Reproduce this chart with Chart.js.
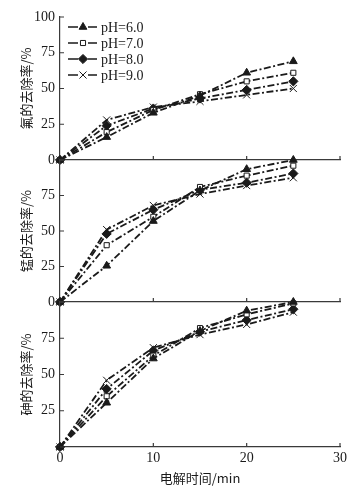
<!DOCTYPE html>
<html>
<head>
<meta charset="utf-8">
<script src="https://cdn.jsdelivr.net/npm/chart.js@4.4.1/dist/chart.umd.min.js"></script>
<style>
html, body { margin: 0; padding: 0; background: #fff; }
#wrap { position: relative; width: 360px; height: 490px; }
#wrap canvas { position: absolute; left: 0; top: 0; }
</style>
</head>
<body>
<div id="wrap">
  <canvas id="c1" width="360" height="490"></canvas>
  <canvas id="c2" width="360" height="490"></canvas>
  <canvas id="c3" width="360" height="490"></canvas>
</div>
<script>
// --- datos ---
const times = [0, 5, 10, 15, 20, 25];
const phLabels = ['pH=6.0', 'pH=7.0', 'pH=8.0', 'pH=9.0'];
const xTicks = [0, 10, 20, 30];

// 氟 (fluor): pH6, pH7, pH8, pH9
const fluoride = [
    [0, 16, 33, 45, 61, 69],
    [0, 19.5, 35, 46, 55, 61],
    [0, 24, 36, 43, 49, 55],
    [0, 28, 37, 41, 45.5, 50]
];
// 锰 (manganeso)
const manganese = [
    [0, 25.5, 57, 78.5, 93.5, 100],
    [0, 40, 60, 81, 89, 96],
    [0, 48, 65, 79, 84, 90.5],
    [0, 51, 68, 76, 82, 87.5]
];
// 砷 (arsenico)
const arsenic = [
    [0, 30.5, 61, 80, 94, 100],
    [0, 35, 63, 82, 91.5, 99],
    [0, 40, 66.5, 79.5, 87.5, 95],
    [0, 46, 68.5, 77.5, 84.5, 93]
];

const INK = '#1a1a1a';
const AXIS = '#3a3a3a';
const SERIF = "'Liberation Serif', 'DejaVu Serif', serif";
const CJK = "'Noto Sans CJK SC', 'Noto Sans', sans-serif";

// estilo de marcadores por pH
const markers = [
    { pointStyle: 'triangle', radius: 4.5, fill: INK },
    { pointStyle: 'rect', radius: 3.6, fill: '#fff' },
    { pointStyle: 'rectRot', radius: 4.6, fill: INK },
    { pointStyle: 'crossRot', radius: 5, fill: INK }
];

const makeDatasets = (rows) => rows.map((vals, i) => ({
    label: phLabels[i],
    data: times.map((t, k) => ({ x: t, y: vals[k] })),
    borderColor: INK,
    borderWidth: 1.8,
    borderDash: [7, 2.5, 2, 2.5],
    pointStyle: markers[i].pointStyle,
    pointRadius: markers[i].radius,
    pointBackgroundColor: markers[i].fill,
    pointBorderColor: INK,
    pointBorderWidth: 1,
    tension: 0,
    clip: false
}));

// marcas de escala hacia dentro
const innerTicks = {
    id: 'innerTicks',
    afterDraw(chart) {
        const { ctx, chartArea, scales } = chart;
        ctx.save();
        ctx.strokeStyle = AXIS;
        ctx.lineWidth = 1.2;
        ctx.beginPath();
        [10, 20, 30].forEach(v => {
            const x = scales.x.getPixelForValue(v);
            ctx.moveTo(x, chartArea.bottom);
            ctx.lineTo(x, chartArea.bottom - 4);
        });
        scales.y.ticks.forEach(t => {
            const y = scales.y.getPixelForValue(t.value);
            ctx.moveTo(chartArea.left, y);
            ctx.lineTo(chartArea.left + 4, y);
        });
        ctx.stroke();
        ctx.restore();
    }
};

// leyenda dibujada a mano (linea - marcador - linea)
const legendBox = {
    id: 'legendBox',
    afterDraw(chart) {
        if (chart.canvas.id !== 'c1') return;
        const ctx = chart.ctx;
        ctx.save();
        phLabels.forEach((lab, i) => {
            const y = 27 + i * 16;
            ctx.strokeStyle = INK;
            ctx.lineWidth = 1.6;
            ctx.beginPath();
            ctx.moveTo(68, y); ctx.lineTo(78, y);
            ctx.moveTo(88, y); ctx.lineTo(97, y);
            ctx.stroke();
            ctx.fillStyle = markers[i].fill;
            ctx.lineWidth = 1;
            Chart.helpers.drawPoint(ctx, { pointStyle: markers[i].pointStyle, radius: markers[i].radius, rotation: 0, borderWidth: 1 }, 83, y);
            ctx.fillStyle = INK;
            ctx.font = '14px ' + SERIF;
            ctx.textBaseline = 'middle';
            ctx.fillText(lab, 101, y + 1);
        });
        ctx.restore();
    }
};

const panelOptions = (top, bottom, yTitle, showX, hideTicks) => ({
    responsive: false,
    animation: false,
    events: [],
    layout: { padding: { top: top, bottom: bottom, left: 0, right: 20 } },
    plugins: { legend: { display: false }, tooltip: { enabled: false } },
    scales: {
        x: {
            type: 'linear', min: 0, max: 30,
            afterBuildTicks: s => { s.ticks = xTicks.map(v => ({ value: v })); },
            afterFit: s => { s.height = showX ? 41 : 0; },
            grid: { display: false, drawTicks: false },
            border: { display: true, color: AXIS, width: 1.2 },
            ticks: { display: showX, padding: 3, color: INK, font: { family: SERIF, size: 14 } },
            title: {
                display: showX, text: '电解时间/min', color: INK,
                font: { family: CJK, size: 13 }, padding: { top: 0, bottom: 2 }
            }
        },
        y: {
            min: 0, max: 100,
            afterFit: s => { s.width = 60; },
            grid: { display: false, drawTicks: false },
            border: { display: true, color: AXIS, width: 1.2 },
            ticks: {
                stepSize: 25, padding: 5, color: INK,
                font: { family: SERIF, size: 14 },
                callback: v => hideTicks.includes(v) ? '' : v
            },
            title: {
                display: true, text: yTitle, color: INK,
                font: { family: CJK, size: 13 }, padding: { top: 18, bottom: 0 }
            }
        }
    }
});

new Chart(document.getElementById('c1'), {
    type: 'line',
    data: { datasets: makeDatasets(fluoride) },
    options: panelOptions(17, 330, '氟的去除率/%', false, []),
    plugins: [innerTicks, legendBox]
});

new Chart(document.getElementById('c2'), {
    type: 'line',
    data: { datasets: makeDatasets(manganese) },
    options: panelOptions(160, 188, '锰的去除率/%', false, [100]),
    plugins: [innerTicks]
});

new Chart(document.getElementById('c3'), {
    type: 'line',
    data: { datasets: makeDatasets(arsenic) },
    options: panelOptions(302, 2, '砷的去除率/%', true, [0, 100]),
    plugins: [innerTicks]
});
</script>
</body>
</html>
